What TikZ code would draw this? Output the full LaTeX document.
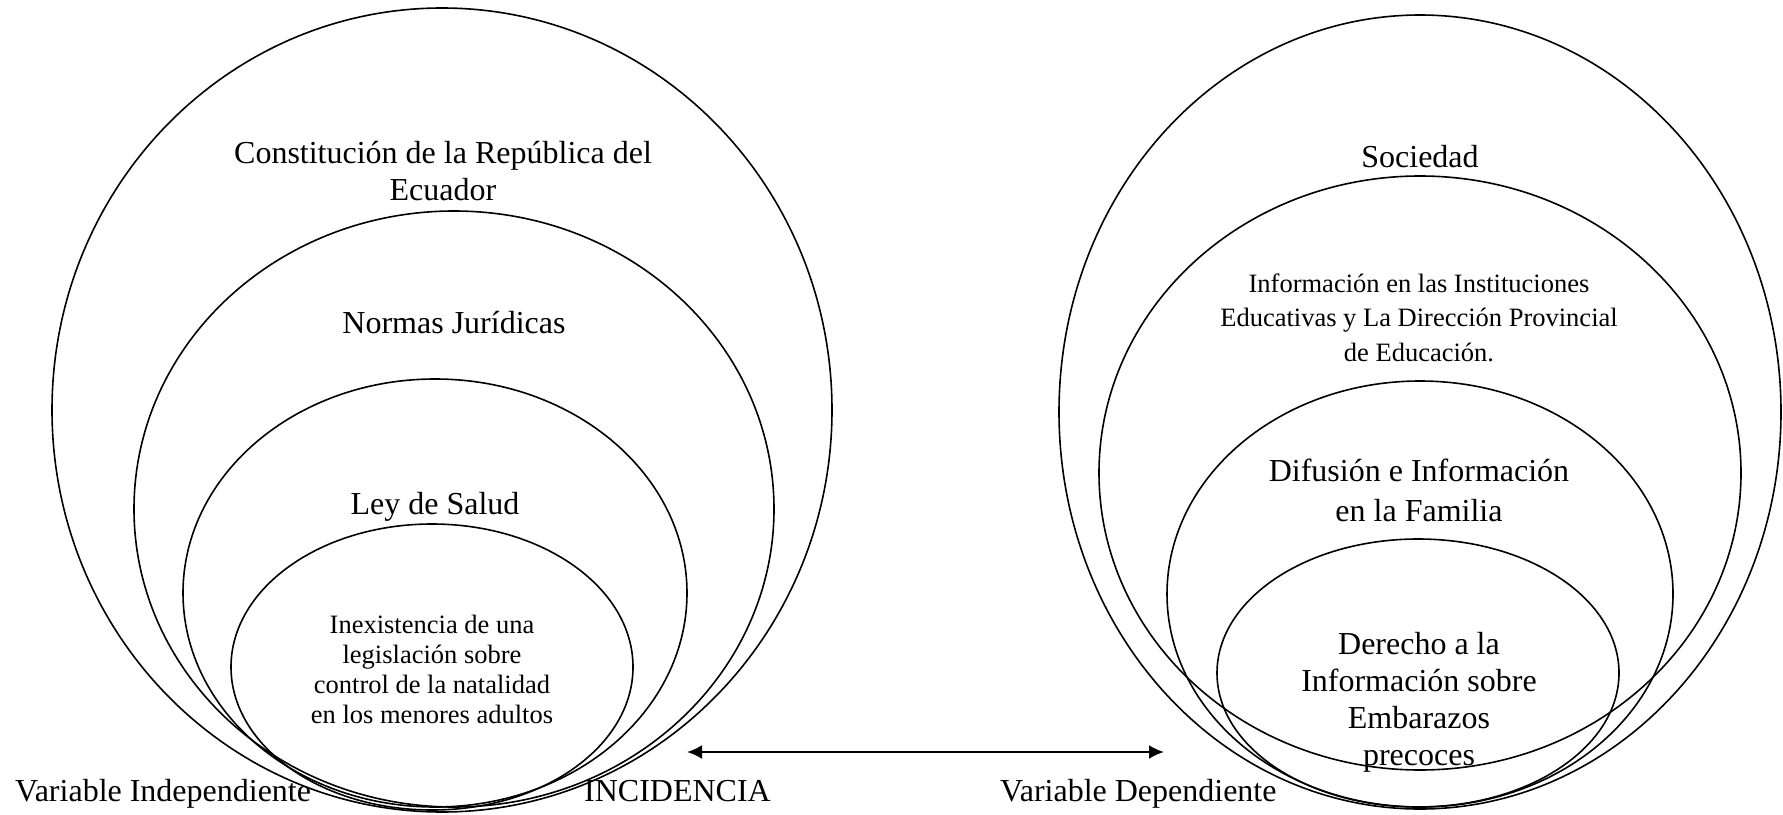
\documentclass[tikz,border=0pt]{standalone}
\usepackage{fontspec}
\setmainfont{Liberation Serif}
\usetikzlibrary{arrows.meta}
\newcommand{\mylines}[1]{\begin{tabular}[t]{@{}c@{}}#1\end{tabular}}
\begin{document}
\begin{tikzpicture}[x=1pt,y=-1pt,
  ring/.style={line width=1.6pt},
  big/.style={inner sep=0pt,anchor=base,font=\fontsize{32}{37}\selectfont},
  small/.style={inner sep=0pt,anchor=base,font=\fontsize{26.5}{30}\selectfont},
  label/.style={inner sep=0pt,anchor=base west,font=\fontsize{32}{37}\selectfont},
  twoway/.style={{Latex[length=15pt,width=14pt]}-{Latex[length=15pt,width=14pt]},line width=2.2pt}]
\useasboundingbox (0,0) rectangle (1783,814);
\fill[white] (0,0) rectangle (1783,814);
% left group
\coordinate (lo) at (442,410);
\coordinate (l2) at (454,509);
\coordinate (l3) at (435,593);
\coordinate (l4) at (432,667);
\draw[ring] (lo) ellipse [x radius=390pt, y radius=402pt];
\draw[ring] (l2) ellipse [x radius=320pt, y radius=298pt];
\draw[ring] (l3) ellipse [x radius=252pt, y radius=214pt];
\draw[ring] (l4) ellipse [x radius=201pt, y radius=143pt];
% right group
\coordinate (ro) at (1420,412);
\coordinate (r2) at (1420,473);
\coordinate (r3) at (1420,594);
\coordinate (r4) at (1418,673);
\draw[ring] (ro) ellipse [x radius=361pt, y radius=397pt];
\draw[ring] (r2) ellipse [x radius=321pt, y radius=297pt];
\draw[ring] (r3) ellipse [x radius=253pt, y radius=213pt];
\draw[ring] (r4) ellipse [x radius=201pt, y radius=134pt];
% texts left
\node[big] (t1) at (443,163) {\mylines{Constitución de la República del\\Ecuador}};
\node[big] (t2) at (454,333) {Normas Jurídicas};
\node[big] (t3) at (435,514) {Ley de Salud};
\node[small] (t4) at (432,633) {\mylines{Inexistencia de una\\legislación sobre\\control de la natalidad\\en los menores adultos}};
% texts right
\node[big] (s1) at (1420,167) {Sociedad};
\node[inner sep=0pt,anchor=base,font=\fontsize{26.5}{34.5}\selectfont] (s2) at (1419,292) {\mylines{Información en las Instituciones\\Educativas y La Dirección Provincial\\de Educación.}};
\node[inner sep=0pt,anchor=base,font=\fontsize{32}{40}\selectfont] (s3) at (1419,481) {\mylines{Difusión e Información\\en la Familia}};
\node[big] (s4) at (1419,654) {\mylines{Derecho a la\\Información sobre\\Embarazos\\precoces}};
% bottom labels
\node[label] (vi) at (15,801) {Variable Independiente};
\node[label] (inc) at (584,801) {INCIDENCIA};
\node[label] (vd) at (1000,801) {Variable Dependiente};
% arrow
\coordinate (al) at (687,752);
\coordinate (ar) at (1164,752);
\draw[twoway] (al) -- (ar);
\end{tikzpicture}
\end{document}
